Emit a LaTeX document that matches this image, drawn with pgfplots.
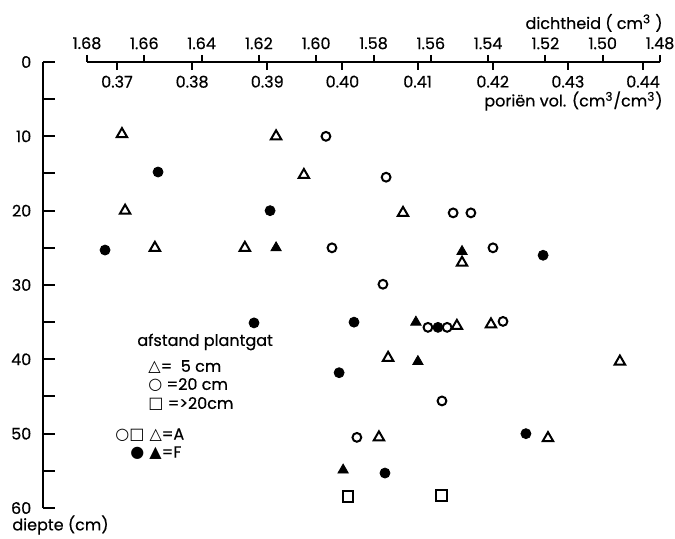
\documentclass[border=0pt]{standalone}
\usepackage{fontspec}
\setmainfont{Poppins}[FakeBold=0.5]
\newfontfamily\sym{DejaVu Sans}
\usepackage{pgfplots}
\usepackage{pgfplotstable}
\pgfplotsset{compat=1.18}

% d = dichtheid, z = diepte (cm)
\pgfplotstableread{
d z
1.6678 9.7
1.6140 10
1.6043 15.2
1.6667 20
1.5697 20.3
1.6563 25
1.6249 25
1.5491 27
1.5509 35.5
1.5390 35.3
1.5749 39.8
1.4940 40.3
1.5781 50.5
1.5191 50.6
}\opentri
\pgfplotstableread{
d z
1.5966 10
1.5756 15.5
1.5522 20.3
1.5460 20.3
1.5945 25
1.5383 25
1.5767 29.9
1.5610 35.7
1.5543 35.7
1.5348 34.9
1.5561 45.6
1.5858 50.5
}\opencirc
\pgfplotstableread{
d z
1.5889 58.5
1.5564 58.3
}\opensq
\pgfplotstableread{
d z
1.6552 14.8
1.6161 20
1.6737 25.3
1.5208 26
1.6217 35.1
1.5868 35
1.5575 35.7
1.5920 41.8
1.5268 50
1.5760 55.3
}\fillcirc
\pgfplotstableread{
d z
1.6140 25
1.5491 25.5
1.5652 35
1.5645 40.3
1.5906 54.9
}\filltri

\begin{document}
\fontsize{8}{9.6}\selectfont
\begin{tikzpicture}
\path[use as bounding box] (0,0) rectangle (337.5pt,269.5pt);

% main axis: depth axis + data
\begin{axis}[
  at={(175.75pt,127pt)}, anchor=center,
  scale only axis, width=308.5pt, height=223pt,
  xmin=-1.695358, xmax=-1.48,
  ymin=-60, ymax=0,
  axis y line*=left, axis x line=none,
  ytick={-60,-50,-40,-30,-20,-10,0},
  yticklabels={60,50,40,30,20,10,0},
  minor ytick={-55,-45,-35,-25,-15,-5},
  tick align=inside,
  major tick length=6pt, minor tick length=6pt,
  every tick/.style={black, line width=1pt},
  every minor tick/.style={black, line width=1pt},
  axis line style={line width=1pt, -},
  yticklabel style={font=\fontsize{8}{9.6}\selectfont, xshift=-3pt},
  clip=false,
]
\addplot[only marks, mark=triangle, mark size=3pt, mark options={line width=1pt, fill=white, draw=black}]
  table[x expr=-\thisrow{d}, y expr=-\thisrow{z}] {\opentri};
\addplot[only marks, mark=o, mark size=2.2pt, mark options={line width=1pt, draw=black}]
  table[x expr=-\thisrow{d}, y expr=-\thisrow{z}] {\opencirc};
\addplot[only marks, mark=square, mark size=2.7pt, mark options={line width=1pt, draw=black}]
  table[x expr=-\thisrow{d}, y expr=-\thisrow{z}] {\opensq};
\addplot[only marks, mark=*, mark size=2.5pt, mark options={draw=black, fill=black}]
  table[x expr=-\thisrow{d}, y expr=-\thisrow{z}] {\fillcirc};
\addplot[only marks, mark=triangle*, mark size=3pt, mark options={draw=black, fill=black}]
  table[x expr=-\thisrow{d}, y expr=-\thisrow{z}] {\filltri};
\end{axis}

% density axis (top)
\begin{axis}[
  at={(43.5pt,238.5pt)}, anchor=north west,
  scale only axis, width=286.5pt, height=1pt,
  xmin=-1.68, xmax=-1.48, ymin=0, ymax=1,
  hide y axis, axis x line*=top,
  xtick={-1.68,-1.66,-1.64,-1.62,-1.60,-1.58,-1.56,-1.54,-1.52,-1.50,-1.48},
  xticklabels={1.68,1.66,1.64,1.62,1.60,1.58,1.56,1.54,1.52,1.50,1.48},
  xtick align=outside, major tick length=3.5pt,
  every tick/.style={black, line width=1pt},
  axis line style={line width=1pt, -},
  xticklabel style={font=\fontsize{8}{9.6}\selectfont},
]
\end{axis}

% pore volume axis (top, ticks downward)
\begin{axis}[
  at={(43.5pt,238.5pt)}, anchor=south west,
  scale only axis, width=286.5pt, height=1pt,
  xmin=0.36601, xmax=0.44226, ymin=0, ymax=1,
  hide y axis, axis x line*=bottom,
  xtick={0.37,0.38,0.39,0.40,0.41,0.42,0.43,0.44},
  xticklabels={0.37,0.38,0.39,0.40,0.41,0.42,0.43,0.44},
  xtick align=outside, major tick length=4pt,
  every tick/.style={black, line width=1pt},
  axis line style={line width=1pt, -},
  xticklabel style={font=\fontsize{8}{9.6}\selectfont},
]
\end{axis}

\node[anchor=east, inner sep=0pt] at (331.5pt,258pt) {dichtheid ( cm\textsuperscript{3} )};
\node[anchor=east, inner sep=0pt] at (331.5pt,219pt) {poriën vol. (cm\textsuperscript{3}/cm\textsuperscript{3})};
\node[anchor=west, inner sep=0pt] at (6pt,7pt) {diepte (cm)};

\node[anchor=west, inner sep=0pt] at (68.5pt,98.5pt) {afstand plantgat};
\node[anchor=west, inner sep=0pt] at (74pt,86pt) {{\sym △}=\ \ 5 cm};
\node[anchor=west, inner sep=0pt] at (74pt,77pt) {{\sym ○} =20 cm};
\node[anchor=west, inner sep=0pt] at (74pt,67.5pt) {{\sym □} =>20cm};
\node[anchor=west, inner sep=0pt] at (57.5pt,52pt) {{\sym ○□ △}=A};
\node[anchor=west, inner sep=0pt] at (65pt,43pt) {{\sym ● ▲}=F};
\end{tikzpicture}
\end{document}
